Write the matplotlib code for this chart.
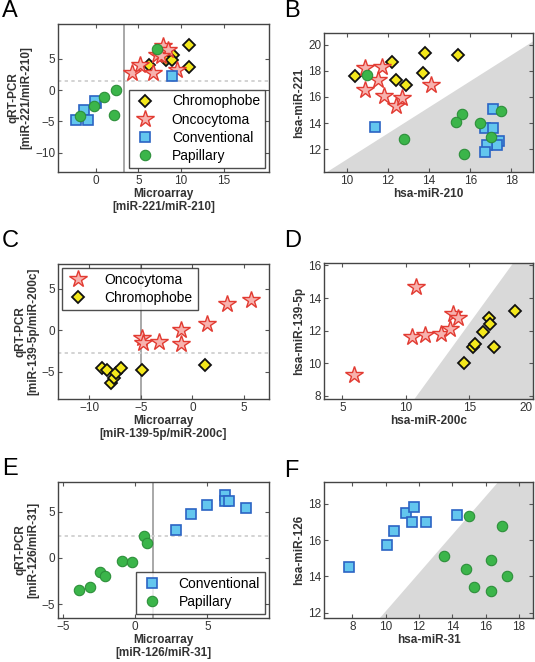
import numpy as np
import matplotlib
matplotlib.use("Agg")
import matplotlib.pyplot as plt

plt.rcParams['font.family'] = ['Liberation Sans', 'DejaVu Sans']

# ---- panel A: qRT-PCR vs microarray, miR-221/miR-210
a_chromo_x = [6.3, 8.2, 9.1, 9.0, 10.9, 10.9]
a_chromo_y = [4.1, 4.9, 5.6, 4.8, 7.2, 3.7]
a_onco_x = [4.3, 5.2, 6.7, 7.2, 7.9, 8.5, 7.7, 9.5]
a_onco_y = [2.8, 4.1, 2.8, 5.7, 7.0, 6.4, 5.4, 3.3]
a_conv_x = [8.9, -2.3, -1.4, -0.9, 0.1, -0.1]
a_conv_y = [2.2, -4.8, -3.2, -4.8, -2.0, -1.8]
a_pap_x = [7.2, -1.8, -0.2, 1.0, 2.4, 2.1]
a_pap_y = [6.6, -4.2, -2.5, -1.1, 0.0, -4.0]

# ---- panel B: hsa-miR-221 vs hsa-miR-210
b_chromo_x = [10.4, 12.2, 12.4, 12.9, 13.8, 13.7, 15.4]
b_chromo_y = [17.6, 18.7, 17.3, 16.9, 19.4, 17.8, 19.2]
b_onco_x = [10.9, 11.7, 11.5, 10.9, 11.8, 12.4, 12.7, 14.1]
b_onco_y = [18.2, 18.3, 17.3, 16.5, 16.1, 15.3, 15.9, 16.9]
b_conv_x = [11.4, 17.1, 16.7, 17.1, 17.4, 17.3, 16.8, 16.7]
b_conv_y = [13.7, 15.1, 13.6, 13.6, 12.6, 12.3, 12.3, 11.8]
b_pap_x = [11.0, 12.8, 15.6, 15.3, 16.5, 17.5, 17.0, 15.7]
b_pap_y = [17.7, 12.8, 14.7, 14.1, 14.0, 14.9, 12.9, 11.6]

# ---- panel C: miR-139-5p/miR-200c
c_onco_x = [-4.9, -4.8, -3.2, -1.1, -1.1, 1.4, 3.3, 5.7]
c_onco_y = [-0.9, -1.5, -1.4, 0.0, -1.7, 0.8, 3.2, 3.7]
c_chromo_x = [-8.7, -8.3, -7.9, -7.6, -7.4, -6.9, -4.9, 1.2]
c_chromo_y = [-4.6, -4.8, -6.4, -5.8, -5.2, -4.6, -4.8, -4.2]

# ---- panel D: hsa-miR-139-5p vs hsa-miR-200c
d_onco_x = [5.9, 10.8, 10.5, 11.5, 12.8, 13.5, 13.7, 14.1]
d_onco_y = [9.3, 14.7, 11.6, 11.7, 11.8, 12.1, 13.0, 12.8]
d_chromo_x = [14.6, 15.3, 15.4, 16.1, 16.5, 16.6, 16.9, 18.6]
d_chromo_y = [10.0, 11.0, 11.2, 11.9, 12.8, 12.4, 11.0, 13.2]

# ---- panel E: miR-126/miR-31
e_conv_x = [2.8, 3.9, 5.0, 6.2, 6.2, 6.5, 7.7]
e_conv_y = [3.0, 4.7, 5.7, 6.8, 6.1, 6.1, 5.4]
e_pap_x = [-3.9, -3.1, -2.4, -2.1, -0.9, -0.2, 0.6, 0.8]
e_pap_y = [-3.5, -3.2, -1.5, -2.0, -0.3, -0.5, 2.4, 1.6]

# ---- panel F: hsa-miR-126 vs hsa-miR-31
f_conv_x = [7.8, 10.1, 10.5, 11.2, 11.7, 11.6, 12.4, 14.3]
f_conv_y = [14.5, 15.7, 16.5, 17.5, 17.8, 17.0, 17.0, 17.4]
f_pap_x = [15.0, 17.0, 13.5, 16.3, 14.8, 17.3, 15.3, 16.3]
f_pap_y = [17.3, 16.8, 15.1, 14.9, 14.4, 14.0, 13.4, 13.2]

W, H = 535, 662
fig = plt.figure(figsize=(W / 100, H / 100), dpi=100)

STYLES = {
    'Chromophobe': dict(marker='D', ms=6.3, mfc='#f4e81c', mec='#111111', mew=1.3),
    'Oncocytoma': dict(marker='*', ms=13, mfc='#f7b2ae', mec='#e23b32', mew=1.0),
    'Conventional': dict(marker='s', ms=7.0, mfc='#63c6ee', mec='#2b64c4', mew=1.2),
    'Papillary': dict(marker='o', ms=7.5, mfc='#3bb54a', mec='#2d8f3a', mew=0.8),
}


def make_ax(left, top, right, bottom):
    ax = fig.add_axes([left / W, 1 - bottom / H, (right - left) / W, (bottom - top) / H])
    ax.tick_params(direction='in', top=True, right=True, labelsize=8.5,
                   length=3, color='#555555', labelcolor='#333333', pad=2)
    for s in ax.spines.values():
        s.set_color('#444444')
        s.set_linewidth(1.0)
    return ax


def pts(ax, x, y, name):
    ax.plot(x, y, ls='none', label=name, zorder=3, **STYLES[name])


def shade(ax, slope, icpt):
    x0, x1 = ax.get_xlim()
    y0, y1 = ax.get_ylim()
    xs = np.linspace(x0, x1, 50)
    ax.fill_between(xs, y0 - 50, slope * xs + icpt, color='#d9d9d9', lw=0, zorder=0)
    ax.set_xlim(x0, x1)
    ax.set_ylim(y0, y1)


def legend(ax, loc):
    leg = ax.legend(loc=loc, fontsize=10, fancybox=False, edgecolor='#222222',
                    borderaxespad=0.3, handletextpad=1.1, labelspacing=0.3,
                    borderpad=0.35, handlelength=1.6, numpoints=1)
    leg.get_frame().set_linewidth(1.0)
    return leg


def letter(x, y, t):
    fig.text(x / W, 1 - y / H, t, fontsize=17, ha='left', va='top')


lab_kw = dict(fontsize=8.5, fontweight='bold', color='#333333')

# A
ax = make_ax(58, 24, 269, 172)
ax.set_xlim(-4.4, 20.3)
ax.set_ylim(-13.1, 10.6)
ax.axvline(3.35, color='#999999', lw=1.2, zorder=1)
ax.axhline(1.4, color='#cccccc', lw=1.2, ls=(0, (2, 2)), zorder=1)
pts(ax, a_chromo_x, a_chromo_y, 'Chromophobe')
pts(ax, a_onco_x, a_onco_y, 'Oncocytoma')
pts(ax, a_conv_x, a_conv_y, 'Conventional')
pts(ax, a_pap_x, a_pap_y, 'Papillary')
ax.set_xticks([0, 5, 10, 15])
ax.set_yticks([-10, -5, 0, 5])
ax.set_xlabel('Microarray\n[miR-221/miR-210]', labelpad=1, linespacing=1.1, **lab_kw)
ax.set_ylabel('qRT-PCR\n[miR-221/miR-210]', labelpad=2, linespacing=1.1, **lab_kw)
legend(ax, 'lower right')
letter(2, 0, 'A')

# B
ax = make_ax(324, 33, 533, 172)
ax.set_xlim(8.9, 19.05)
ax.set_ylim(10.25, 20.9)
shade(ax, 1.0, 1.2)
pts(ax, b_chromo_x, b_chromo_y, 'Chromophobe')
pts(ax, b_onco_x, b_onco_y, 'Oncocytoma')
pts(ax, b_conv_x, b_conv_y, 'Conventional')
pts(ax, b_pap_x, b_pap_y, 'Papillary')
ax.set_xticks([10, 12, 14, 16, 18])
ax.set_yticks([12, 14, 16, 18, 20])
ax.set_xlabel('hsa-miR-210', labelpad=1, **lab_kw)
ax.set_ylabel('hsa-miR-221', labelpad=2, **lab_kw)
letter(284, 0, 'B')

# C
ax = make_ax(58, 264, 269, 399)
ax.set_xlim(-13.0, 7.4)
ax.set_ylim(-8.3, 8.0)
ax.axvline(-5, color='#999999', lw=1.2, zorder=1)
ax.axhline(-2.8, color='#cccccc', lw=1.2, ls=(0, (2, 2)), zorder=1)
pts(ax, c_onco_x, c_onco_y, 'Oncocytoma')
pts(ax, c_chromo_x, c_chromo_y, 'Chromophobe')
ax.set_xticks([-10, -5, 0, 5])
ax.set_yticks([-5, 0, 5])
ax.set_xlabel('Microarray\n[miR-139-5p/miR-200c]', labelpad=1, linespacing=1.1, **lab_kw)
ax.set_ylabel('qRT-PCR\n[miR-139-5p/miR-200c]', labelpad=2, linespacing=1.1, **lab_kw)
legend(ax, 'upper left')
letter(2, 230, 'C')

# D
ax = make_ax(324, 263, 533, 399)
ax.set_xlim(3.56, 20.0)
ax.set_ylim(7.8, 16.15)
shade(ax, 1.075, -3.68)
pts(ax, d_onco_x, d_onco_y, 'Oncocytoma')
pts(ax, d_chromo_x, d_chromo_y, 'Chromophobe')
ax.set_xticks([5, 10, 15, 20])
ax.set_yticks([8, 10, 12, 14, 16])
ax.get_xticklabels()[-1].set_horizontalalignment('right')
ax.set_xlabel('hsa-miR-200c', labelpad=1, **lab_kw)
ax.set_ylabel('hsa-miR-139-5p', labelpad=2, **lab_kw)
letter(284, 230, 'D')

# E
ax = make_ax(58, 482, 269, 618)
ax.set_xlim(-5.33, 9.26)
ax.set_ylim(-6.5, 8.2)
ax.axvline(1.27, color='#999999', lw=1.2, zorder=1)
ax.axhline(2.37, color='#cccccc', lw=1.2, ls=(0, (2, 2)), zorder=1)
pts(ax, e_conv_x, e_conv_y, 'Conventional')
pts(ax, e_pap_x, e_pap_y, 'Papillary')
ax.set_xticks([-5, 0, 5])
ax.set_yticks([-5, 0, 5])
ax.set_xlabel('Microarray\n[miR-126/miR-31]', labelpad=1, linespacing=1.1, **lab_kw)
ax.set_ylabel('qRT-PCR\n[miR-126/miR-31]', labelpad=2, linespacing=1.1, **lab_kw)
legend(ax, 'lower right')
letter(2, 458, 'E')

# F
ax = make_ax(324, 482, 533, 618)
ax.set_xlim(6.3, 18.85)
ax.set_ylim(11.7, 19.2)
shade(ax, 1.056, 1.5)
pts(ax, f_conv_x, f_conv_y, 'Conventional')
pts(ax, f_pap_x, f_pap_y, 'Papillary')
ax.set_xticks([8, 10, 12, 14, 16, 18])
ax.set_yticks([12, 14, 16, 18])
ax.set_xlabel('hsa-miR-31', labelpad=1, **lab_kw)
ax.set_ylabel('hsa-miR-126', labelpad=2, **lab_kw)
letter(284, 460, 'F')

fig.savefig('out.png', dpi=100)
